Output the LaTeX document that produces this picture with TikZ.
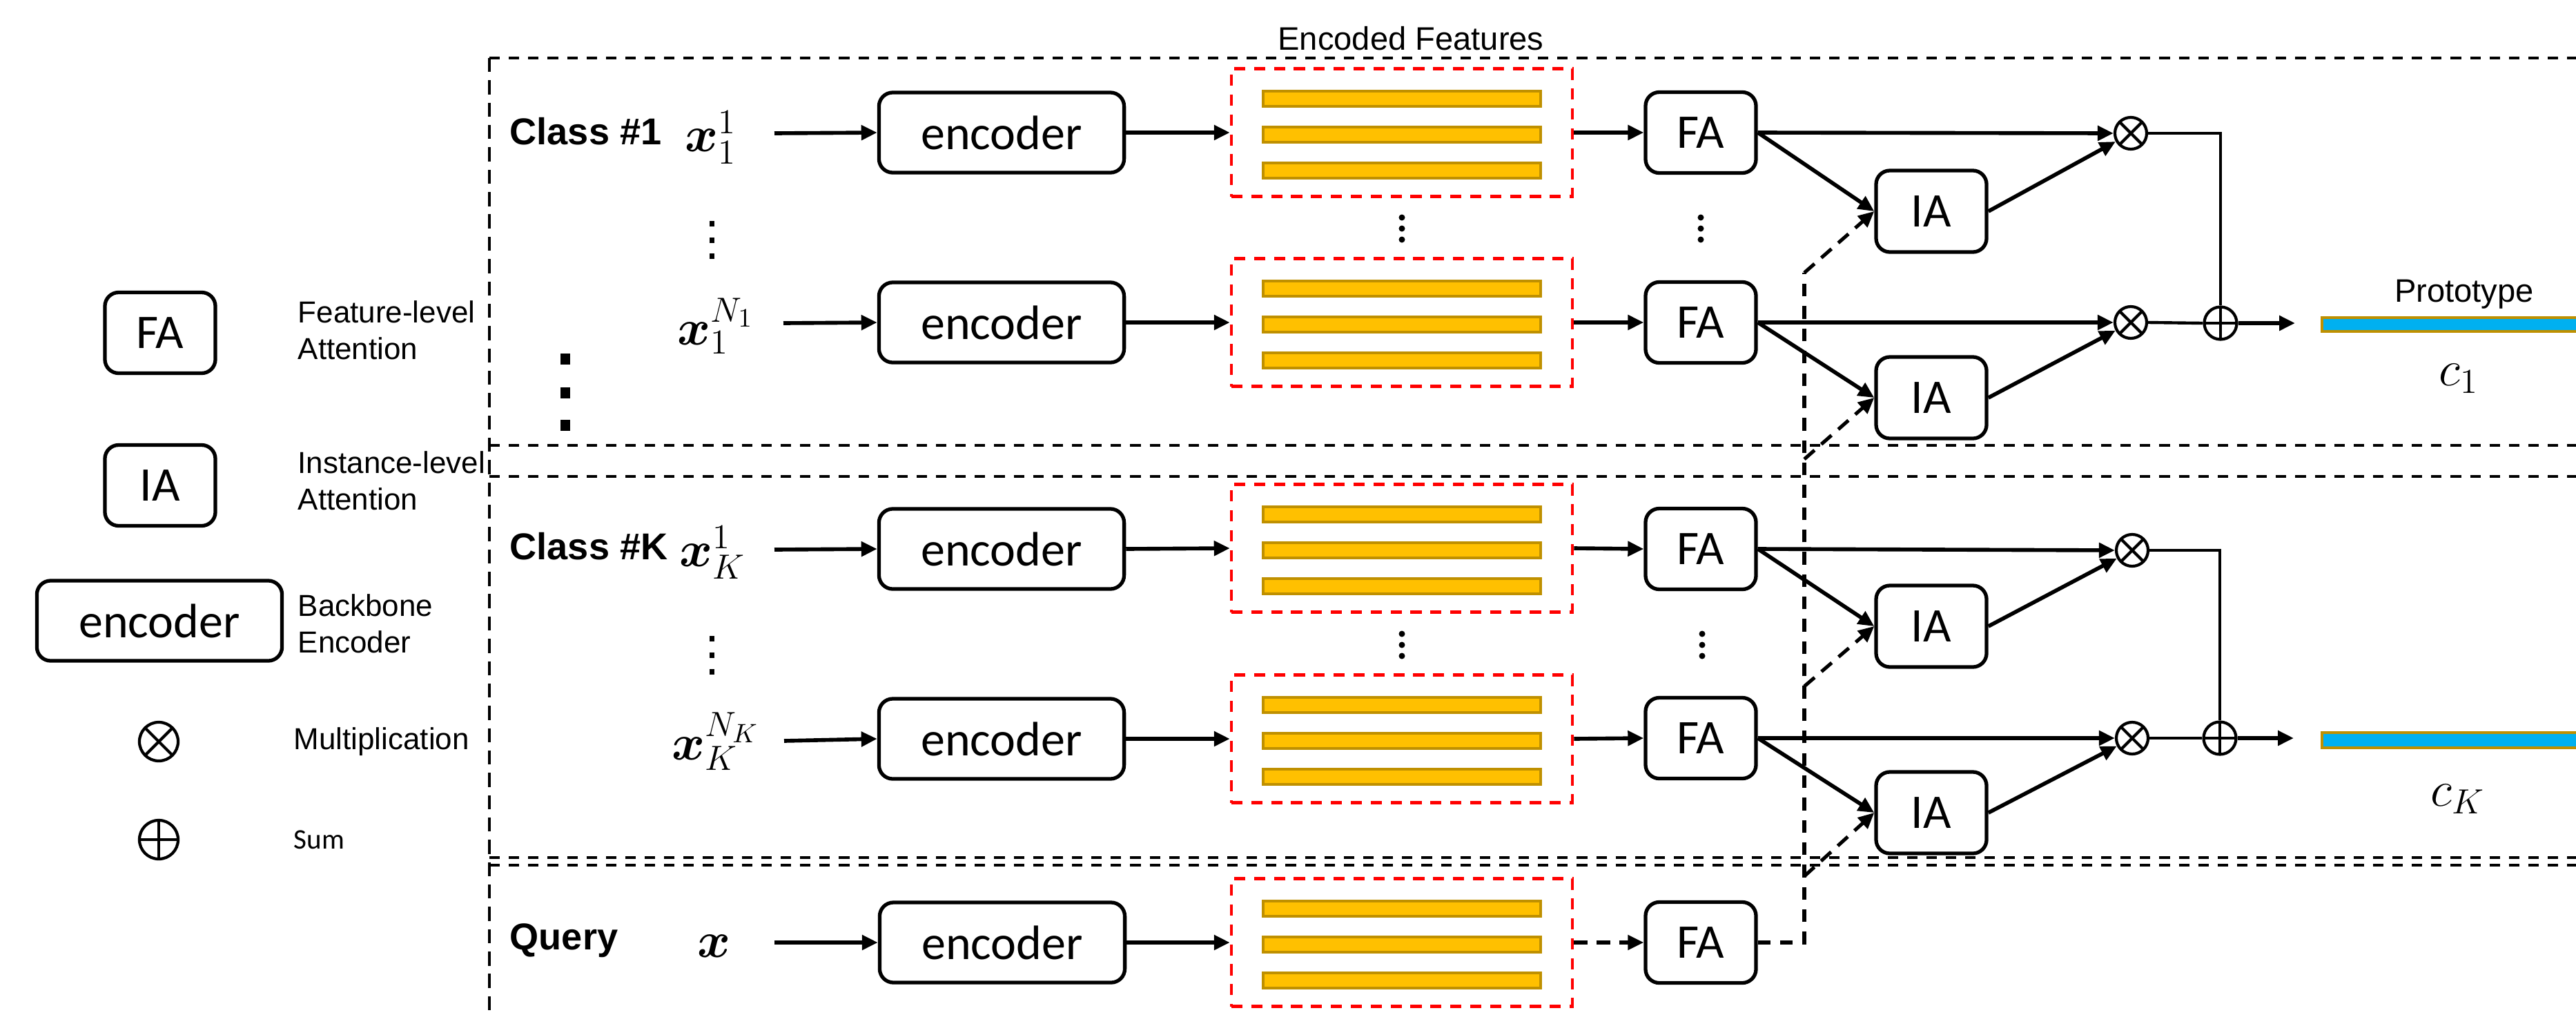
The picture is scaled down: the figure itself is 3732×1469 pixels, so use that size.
\documentclass[tikz,border=0pt]{standalone}
\usepackage[no-math]{fontspec}
\setmainfont{Liberation Sans}
\newfontfamily\calibfont{Carlito}
\usepackage{bm}
\usetikzlibrary{arrows.meta}
\definecolor{baryellow}{HTML}{FFC000}
\definecolor{barborder}{HTML}{BF9000}
\definecolor{protoblue}{HTML}{00B0F0}
\begin{document}
\begin{tikzpicture}[x=0.01cm,y=-0.01cm,
  box/.style={draw, line width=1.5pt, rounded corners=0.2cm, inner sep=0pt,
    font=\calibfont\fontsize{19.9}{22}\selectfont},
  fabox/.style={box, minimum width=1.6cm, minimum height=1.17cm},
  encbox/.style={box, minimum width=3.55cm, minimum height=1.16cm},
  redbox/.style={draw=red, line width=1.2pt, dash pattern=on 4.6pt off 3.6pt,
    minimum width=4.94cm, minimum height=1.85cm, inner sep=0pt},
  featbar/.style={draw=barborder, fill=baryellow, line width=1.1pt,
    minimum width=4.02cm, minimum height=0.22cm, inner sep=0pt},
  protobar/.style={draw=barborder, fill=protoblue, line width=1.2pt},
  outline/.style={line width=1.3pt, dash pattern=on 4.3pt off 3.7pt},
  voutline/.style={line width=1.3pt, dash pattern=on 5.8pt off 3.4pt},
  arr/.style={line width=1.6pt, -{Triangle[length=0.23cm,width=0.21cm]}},
  dasharr/.style={line width=1.45pt, dash pattern=on 5.6pt off 3.7pt, -{Triangle[length=0.23cm,width=0.21cm]}},
  dashln/.style={line width=1.45pt, dash pattern=on 5.2pt off 4pt},
  thin/.style={line width=1.25pt},
  multnode/.style={circle, draw, line width=1.2pt, minimum size=0.46cm, inner sep=0pt,
    path picture={\draw[line width=1.2pt] (path picture bounding box.north west) -- (path picture bounding box.south east)
      (path picture bounding box.north east) -- (path picture bounding box.south west);}},
  sumnode/.style={circle, draw, line width=1.2pt, minimum size=0.47cm, inner sep=0pt,
    path picture={\draw[line width=1.2pt] (path picture bounding box.north) -- (path picture bounding box.south)
      (path picture bounding box.west) -- (path picture bounding box.east);}},
  classlbl/.style={anchor=west, inner sep=0pt, font=\bfseries\fontsize{15.4}{18}\selectfont},
  mathlbl/.style={inner sep=0pt, font=\fontsize{21.5}{25}\selectfont},
  legtxt/.style={anchor=west, inner sep=0pt, align=left, font=\fontsize{12.5}{15.1}\selectfont},
  vdot/.style={fill=black, inner sep=0pt, minimum width=0.07cm, minimum height=0.08cm},
  rdot/.style={circle, fill=black, inner sep=0pt, minimum size=0.09cm},
  bigdot/.style={fill=black, inner sep=0pt, minimum width=0.14cm, minimum height=0.16cm}
]
\useasboundingbox (0,0) rectangle (3732,1469);
\clip (0,0) rectangle (3732,1469);

% ---------- outer dashed frames ----------
\draw[voutline] (709,84) -- (709,1480);
\draw[outline] (709,84) -- (3740,84);
\draw[outline] (709,645) -- (3740,645);
\draw[outline] (709,690) -- (3740,690);
\draw[outline] (709,1242) -- (3740,1242);
\draw[outline] (709,1253) -- (3740,1253);

\node[font=\fontsize{13.4}{16}\selectfont] (enctitle) at (2044,56) {Encoded Features};

% ---------- legend ----------
\node[fabox] (lfa) at (232,482) {FA};
\node[fabox] (lia) at (232,703) {IA};
\node[encbox] (lenc) at (231,899) {encoder};
\node[multnode, minimum size=0.56cm] (lmul) at (230,1074) {};
\node[sumnode, minimum size=0.56cm] (lsum) at (230,1216) {};
\node[legtxt] (tfa) at (431,478) {Feature-level\\Attention};
\node[legtxt] (tia) at (431,696) {Instance-level\\Attention};
\node[legtxt] (tenc) at (431,903) {Backbone\\Encoder};
\node[legtxt] (tmul) at (425,1074) {Multiplication};
\node[anchor=west, inner sep=0pt, font=\calibfont\fontsize{11.7}{14}\selectfont] (tsum) at (425,1216) {Sum};

\node[bigdot] (bd1) at (819,520) {};
\node[bigdot] (bd2) at (819,569) {};
\node[bigdot] (bd3) at (819,616) {};

% ---------- class labels and inputs ----------
\node[classlbl] (c1lbl) at (738,190) {Class \#1};
\node[classlbl] (cKlbl) at (738,791) {Class \#K};
\node[classlbl] (qlbl) at (738,1362) {Query};

\node[mathlbl] (x11) at (1030,199) {$\bm{x}_1^1$};
\node[mathlbl] (x1N) at (1037,472) {$\bm{x}_1^{N_1}$};
\node[mathlbl] (xK1) at (1032,800) {$\bm{x}_K^1$};
\node[mathlbl] (xKN) at (1037,1074) {$\bm{x}_K^{N_K}$};
\node[mathlbl] (xq) at (1035,1370) {$\bm{x}$};

\node[vdot] (va1) at (1031,324) {};
\node[vdot] (va2) at (1031,348) {};
\node[vdot] (va3) at (1031,371) {};
\node[vdot] (vb1) at (1031,925) {};
\node[vdot] (vb2) at (1031,949) {};
\node[vdot] (vb3) at (1031,973) {};

\coordinate (s1) at (1122,193);
\coordinate (s2) at (1135,468);
\coordinate (s3) at (1122,796);
\coordinate (s4) at (1136,1073);
\coordinate (s5) at (1122,1365);

% ---------- encoders ----------
\node[encbox] (e1) at (1451,192) {encoder};
\node[encbox] (e2) at (1451,467) {encoder};
\node[encbox] (e3) at (1451,795) {encoder};
\node[encbox] (e4) at (1451,1070) {encoder};
\node[encbox] (e5) at (1452,1365) {encoder};

% ---------- encoded features ----------
\foreach \n/\y in {1/192,2/467,3/794,4/1070,5/1365}{
  \node[redbox] (r\n) at (2031,\y) {};
  \node[featbar] (b\n a) at (2031,\y-49) {};
  \node[featbar] (b\n b) at (2031,\y+3) {};
  \node[featbar] (b\n c) at (2031,\y+55) {};
}

\node[rdot] (da1) at (2031,315) {};
\node[rdot] (da2) at (2031,331) {};
\node[rdot] (da3) at (2031,347) {};
\node[rdot] (db1) at (2031,918) {};
\node[rdot] (db2) at (2031,934) {};
\node[rdot] (db3) at (2031,950) {};
\node[rdot] (dc1) at (2464,315) {};
\node[rdot] (dc2) at (2464,331) {};
\node[rdot] (dc3) at (2464,347) {};
\node[rdot] (dd1) at (2466,918) {};
\node[rdot] (dd2) at (2466,934) {};
\node[rdot] (dd3) at (2466,950) {};

% ---------- FA / IA ----------
\node[fabox] (f1) at (2464,192) {FA};
\node[fabox] (f2) at (2464,467) {FA};
\node[fabox] (f3) at (2464,795) {FA};
\node[fabox] (f4) at (2464,1069) {FA};
\node[fabox] (f5) at (2464,1365) {FA};

\node[fabox, minimum height=1.18cm] (i1) at (2798,306) {IA};
\node[fabox, minimum height=1.18cm] (i2) at (2798,576) {IA};
\node[fabox, minimum height=1.18cm] (i3) at (2798,907) {IA};
\node[fabox, minimum height=1.18cm] (i4) at (2798,1177) {IA};

\node[multnode] (m1) at (3087,193) {};
\node[multnode] (m2) at (3087,467) {};
\node[multnode] (m3) at (3089,797) {};
\node[multnode] (m4) at (3089,1069) {};

\node[sumnode] (p1) at (3217,468) {};
\node[sumnode] (p2) at (3216,1069) {};

\coordinate (o1) at (3325,468);
\coordinate (o2) at (3323,1069);

% ---------- prototypes ----------
\draw[protobar] (3364,460) rectangle (3800,480);
\draw[protobar] (3364,1061) rectangle (3800,1083);
\node[font=\fontsize{13.4}{16}\selectfont] (ptxt) at (3570,426) {Prototype};
\node[mathlbl] (c1) at (3562,548) {$c_1$};
\node[mathlbl] (cK) at (3561,1157) {$c_K$};

% ---------- connectors ----------
\foreach \n in {1,...,5}{
  \draw[arr] (s\n) -- (e\n.west);
  \draw[arr] (e\n.east) -- (r\n.west);
}
\foreach \n in {1,...,4}{
  \draw[arr] (r\n.east) -- (f\n.west);
}
\draw[dasharr] (r5.east) -- (f5.west);

\draw[arr] (f1.east) -- (m1.west);
\draw[arr] (f1.east) -- (i1.west);
\draw[arr] (i1.east) -- (m1);
\draw[arr] (f2.east) -- (m2.west);
\draw[arr] (f2.east) -- (i2.west);
\draw[arr] (i2.east) -- (m2);
\draw[arr] (f3.east) -- (m3.west);
\draw[arr] (f3.east) -- (i3.west);
\draw[arr] (i3.east) -- (m3);
\draw[arr] (f4.east) -- (m4.west);
\draw[arr] (f4.east) -- (i4.west);
\draw[arr] (i4.east) -- (m4);

\draw[thin] (m1.east) -| (p1.north);
\draw[thin] (m2.east) -- (p1.west);
\draw[arr] (p1.east) -- (o1);
\draw[thin] (m3.east) -| (p2.north);
\draw[thin] (m4.east) -- (p2.west);
\draw[arr] (p2.east) -- (o2);

% query dashed distribution
\coordinate (qc) at (2614,1365);
\coordinate (q1) at (2614,395);
\coordinate (q2) at (2614,665);
\coordinate (q3) at (2614,994);
\coordinate (q4) at (2614,1269);
\draw[dashln] (f5.east) -- (qc) -- (q1);
\draw[dasharr] (q1) -- (i1.west);
\draw[dasharr] (q2) -- (i2.west);
\draw[dasharr] (q3) -- (i3.west);
\draw[dasharr] (q4) -- (i4.west);
\end{tikzpicture}
\end{document}
